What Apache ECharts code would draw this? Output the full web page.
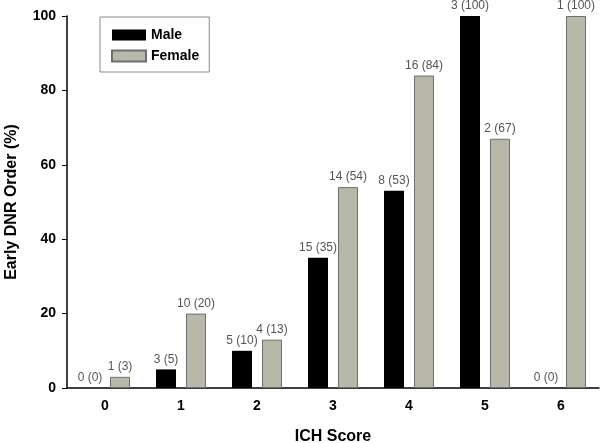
<!DOCTYPE html>
<html>
<head>
<meta charset="utf-8">
<script src="https://cdn.jsdelivr.net/npm/echarts@6/dist/echarts.min.js"></script>
<style>
  html, body { margin: 0; padding: 0; background: #fff; }
  #chart { width: 601px; height: 443px; }
</style>
</head>
<body>
<div id="chart"></div>
<script>
// ICH score categories
const scores = ['0', '1', '2', '3', '4', '5', '6'];
// percentage with early DNR order
const malePct = [0, 5, 10, 35, 53, 100, 0];
const femalePct = [3, 20, 13, 54, 84, 67, 100];
// patient counts shown in the labels
const maleN = [0, 3, 5, 15, 8, 3, 0];
const femaleN = [1, 10, 4, 14, 16, 2, 1];
const yTicks = [0, 20, 40, 60, 80, 100];

const font = 'Liberation Sans, Arial, sans-serif';

function labelFor(counts) {
  return {
    show: true,
    position: 'top',
    distance: 4,
    color: '#555',
    fontSize: 12,
    fontFamily: font,
    formatter: p => counts[p.dataIndex] + ' (' + p.value + ')'
  };
}

const chart = echarts.init(document.getElementById('chart'));
chart.setOption({
  animation: false,
  textStyle: { fontFamily: font },
  grid: { left: 67, right: 2, top: 16, bottom: 55, outerBoundsMode: 'none', containLabel: false },
  legend: {
    left: 100, top: 17,
    orient: 'vertical',
    padding: [11, 10, 9, 11],
    itemGap: 7,
    itemWidth: 34, itemHeight: 11,
    icon: 'rect',
    borderColor: '#888', borderWidth: 1,
    textStyle: { fontWeight: 'bold', fontSize: 14, color: '#000', fontFamily: font },
    data: ['Male', 'Female']
  },
  xAxis: {
    type: 'category',
    data: scores,
    name: 'ICH Score',
    nameLocation: 'middle',
    nameGap: 41,
    nameTextStyle: { fontWeight: 'bold', fontSize: 16, color: '#000' },
    axisLine: { lineStyle: { color: '#000', width: 1.5 } },
    axisTick: { show: false },
    axisLabel: { fontWeight: 'bold', fontSize: 14, color: '#000', margin: 11 }
  },
  yAxis: {
    type: 'value',
    min: yTicks[0], max: yTicks[yTicks.length - 1], interval: 20,
    name: 'Early DNR Order (%)',
    nameLocation: 'middle',
    nameGap: 47,
    nameTextStyle: { fontWeight: 'bold', fontSize: 16, color: '#000' },
    axisLine: { show: true, lineStyle: { color: '#000', width: 1.5 } },
    axisTick: { show: true, length: 5, lineStyle: { color: '#000' } },
    axisLabel: { fontWeight: 'bold', fontSize: 14, color: '#000', margin: 11 },
    splitLine: { show: false }
  },
  series: [
    {
      name: 'Male',
      type: 'bar',
      data: malePct,
      barWidth: 20,
      barGap: '50%',
      itemStyle: { color: '#000' },
      label: labelFor(maleN)
    },
    {
      name: 'Female',
      type: 'bar',
      data: femalePct,
      barWidth: 20,
      itemStyle: { color: '#b8b8aa', borderColor: '#6e6e6e', borderWidth: 1 },
      label: labelFor(femaleN)
    }
  ]
});
</script>
</body>
</html>
